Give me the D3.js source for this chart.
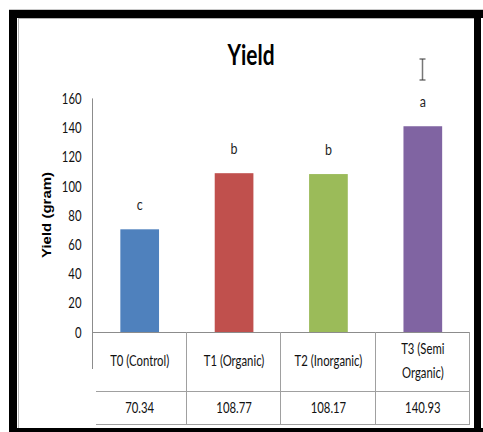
<!DOCTYPE html>
<html>
<head>
<meta charset="utf-8">
<script src="https://cdn.jsdelivr.net/npm/d3@7"></script>
<style>
  html, body { margin: 0; padding: 0; background: #fff; }
  svg { display: block; }
  text { font-family: Lato, "Open Sans", sans-serif; fill: #111; }
</style>
</head>
<body>
<svg id="chart" width="483" height="432"></svg>
<script>
// Yield per treatment (gram)
const categories = ["T0 (Control)", "T1 (Organic)", "T2 (Inorganic)", "T3 (Semi Organic)"];
const categoryLines = [["T0 (Control)"], ["T1 (Organic)"], ["T2 (Inorganic)"], ["T3 (Semi", "Organic)"]];
const yieldValues = [70.34, 108.77, 108.17, 140.93];
const valueLabels = ["70.34", "108.77", "108.17", "140.93"];
const groupLetters = ["c", "b", "b", "a"];
const barColors = ["#4F81BD", "#C0504D", "#9BBB59", "#8064A2"];
const yTicks = [0, 20, 40, 60, 80, 100, 120, 140, 160];

const svg = d3.select("#chart");
const SX = 0.78; // horizontal squeeze applied to the text

// Frame around the chart sheet
const frame = svg.append("g");
frame.append("rect").attr("x", 9).attr("y", 9).attr("width", 474).attr("height", 1).attr("fill", "#c8c8c8");
frame.append("rect").attr("x", 9).attr("y", 10).attr("width", 474).attr("height", 8).attr("fill", "#000");
frame.append("rect").attr("x", 9).attr("y", 10).attr("width", 8).attr("height", 422).attr("fill", "#000");
frame.append("rect").attr("x", 9).attr("y", 428).attr("width", 474).attr("height", 4).attr("fill", "#000");
frame.append("rect").attr("x", 474).attr("y", 10).attr("width", 7).attr("height", 422).attr("fill", "#000");
frame.append("rect").attr("x", 18).attr("y", 18).attr("width", 456).attr("height", 1).attr("fill", "#b4b4b4");
frame.append("rect").attr("x", 18).attr("y", 18).attr("width", 1).attr("height", 410).attr("fill", "#b4b4b4");

// Scales
const left = 92.5, right = 470;
const cols = d3.scaleBand().domain(categories).range([left, right]).padding(0);
const bars = d3.scaleBand().domain(categories).range([left, right])
  .paddingInner(0.59).paddingOuter(0.295);
const y = d3.scaleLinear().domain([0, 160]).range([332, 98.4]);

// Title
svg.append("text")
  .attr("transform", `translate(251,65) scale(0.72,1)`)
  .attr("text-anchor", "middle")
  .style("font-size", "29px").style("font-weight", "700").style("fill", "#000")
  .text("Yield");

// Y axis title
svg.append("text")
  .attr("transform", `translate(51,215) rotate(-90) scale(1,0.8)`)
  .attr("text-anchor", "middle")
  .style("font-family", "'Liberation Sans', Arial, sans-serif")
  .style("font-size", "15px").style("font-weight", "700").style("fill", "#000")
  .text("Yield (gram)");

// Y axis
const yAxis = svg.append("g")
  .attr("transform", `translate(${left},0)`)
  .call(d3.axisLeft(y).tickValues(yTicks).tickSize(0).tickPadding(0));
yAxis.select(".domain").remove();
yAxis.selectAll("text")
  .attr("x", null).attr("dy", null)
  .attr("transform", `translate(-11,5) scale(${SX},1)`)
  .style("font-family", "Lato, 'Open Sans', sans-serif")
  .style("font-size", "14.5px").style("fill", "#111");
svg.append("line")
  .attr("x1", left).attr("x2", left).attr("y1", y(160)).attr("y2", 369)
  .attr("stroke", "#8c8c8c").attr("stroke-width", 1);

// Bars
svg.append("g").selectAll("rect")
  .data(categories)
  .join("rect")
  .attr("x", d => bars(d))
  .attr("width", bars.bandwidth())
  .attr("y", (d, i) => y(yieldValues[i]))
  .attr("height", (d, i) => y(0) - y(yieldValues[i]))
  .attr("fill", (d, i) => barColors[i]);

// Significance letters
svg.append("g").selectAll("text")
  .data(categories)
  .join("text")
  .attr("transform", (d, i) => `translate(${bars(d) + bars.bandwidth() / 2},${y(yieldValues[i]) - 19}) scale(${SX},1)`)
  .attr("text-anchor", "middle")
  .style("font-size", "16px").style("fill", "#1f1f1f")
  .text((d, i) => groupLetters[i]);

// Data table under the axis
const tbl = svg.append("g").attr("stroke", "#a0a0a0").attr("stroke-width", 1);
tbl.append("line").attr("x1", left).attr("x2", right).attr("y1", 332.5).attr("y2", 332.5).attr("stroke", "#8c8c8c");
tbl.append("line").attr("x1", 96).attr("x2", right).attr("y1", 391.5).attr("y2", 391.5);
tbl.append("line").attr("x1", 96).attr("x2", right).attr("y1", 424.5).attr("y2", 424.5);
tbl.selectAll(".div")
  .data(categories)
  .join("line")
  .attr("class", "div")
  .attr("x1", d => Math.round(cols(d) + cols.bandwidth()) - 0.5)
  .attr("x2", d => Math.round(cols(d) + cols.bandwidth()) - 0.5)
  .attr("y1", 332).attr("y2", 425);

// Category names
const catG = svg.append("g").selectAll("g")
  .data(categories)
  .join("g");
catG.each(function (d, i) {
  const lines = categoryLines[i];
  const cx = cols(d) + cols.bandwidth() / 2;
  const mid = 366;
  const lh = 24;
  lines.forEach((ln, k) => {
    const yy = mid + (k - (lines.length - 1) / 2) * lh;
    d3.select(this).append("text")
      .attr("transform", `translate(${cx},${yy}) scale(${SX},1)`)
      .attr("text-anchor", "middle")
      .style("font-size", "14.5px")
      .text(ln);
  });
});

// Values row
svg.append("g").selectAll("text")
  .data(categories)
  .join("text")
  .attr("transform", d => `translate(${cols(d) + cols.bandwidth() / 2},413) scale(${SX},1)`)
  .attr("text-anchor", "middle")
  .style("font-size", "14.5px")
  .text((d, i) => valueLabels[i]);

// I-beam text cursor
const cur = svg.append("g").attr("transform", "translate(422.5,0)");
cur.append("line").attr("x1", 0).attr("x2", 0).attr("y1", 59).attr("y2", 80).attr("stroke", "#777").attr("stroke-width", 1.5);
cur.append("line").attr("x1", -3).attr("x2", 3).attr("y1", 59).attr("y2", 59).attr("stroke", "#333").attr("stroke-width", 1);
cur.append("line").attr("x1", -3).attr("x2", 3).attr("y1", 80).attr("y2", 80).attr("stroke", "#333").attr("stroke-width", 1);
</script>
</body>
</html>
